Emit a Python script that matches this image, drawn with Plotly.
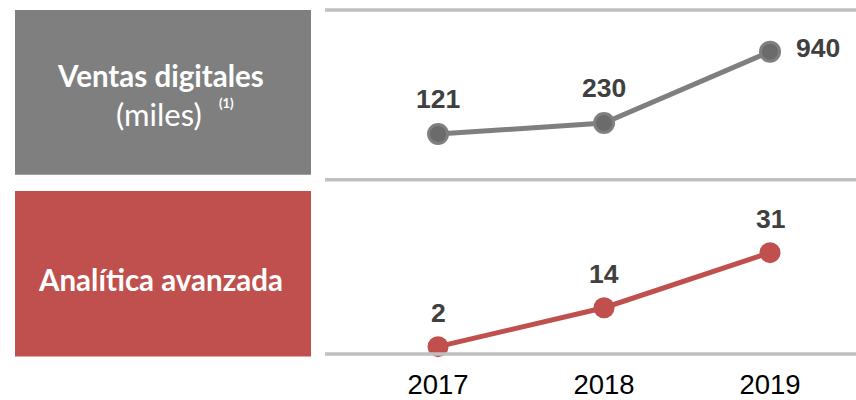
import plotly.graph_objects as go

years = ["2017", "2018", "2019"]
ventas = [121, 230, 940]
analitica = [2, 14, 31]

W, H = 856, 400
def fx(px):
    return px / W
def fy(py):
    return 1 - py / H

GRAY_LINE = "#7f7f7f"
GRAY_MARK = "#6b6b6b"
RED = "#c0504d"
RULE = "#bfbfbf"
LABEL = "#404040"
NUMFONT = "Liberation Sans, Arial, sans-serif"
BOXFONT = "Lato, Open Sans, sans-serif"

xs = list(range(len(years)))

fig = go.Figure()
fig.add_trace(go.Scatter(
    x=xs, y=ventas, mode="lines+markers", xaxis="x", yaxis="y",
    line=dict(color=GRAY_LINE, width=5),
    marker=dict(size=19, color=GRAY_MARK, line=dict(color=GRAY_LINE, width=3)),
    cliponaxis=False, hoverinfo="skip", showlegend=False))
fig.add_trace(go.Scatter(
    x=xs, y=analitica, mode="lines+markers", xaxis="x", yaxis="y2",
    line=dict(color=RED, width=5),
    marker=dict(size=21, color=RED),
    cliponaxis=False, hoverinfo="skip", showlegend=False))

annotations = []
for i, v in zip(xs, ventas):
    last = i == len(xs) - 1
    annotations.append(dict(
        x=i, y=v, xref="x", yref="y", text="<b>%d</b>" % v, showarrow=False,
        xanchor="center", yanchor="middle",
        xshift=48 if last else 0, yshift=4 if last else 35,
        font=dict(family=NUMFONT, size=26.5, color=LABEL)))
for i, v in zip(xs, analitica):
    annotations.append(dict(
        x=i, y=v, xref="x", yref="y2", text="<b>%d</b>" % v, showarrow=False,
        xanchor="center", yanchor="middle", yshift=34,
        font=dict(family=NUMFONT, size=26.5, color=LABEL)))

# box texts
annotations.append(dict(
    x=fx(160), y=fy(76), xref="paper", yref="paper", showarrow=False,
    text="<b>Ventas digitales</b>", xanchor="center", yanchor="middle",
    font=dict(family=BOXFONT, size=29.5, color="white")))
annotations.append(dict(
    x=fx(159), y=fy(115), xref="paper", yref="paper", showarrow=False,
    text="(miles)", xanchor="center", yanchor="middle",
    font=dict(family=BOXFONT, size=31, color="white")))
annotations.append(dict(
    x=fx(226), y=fy(104.5), xref="paper", yref="paper", showarrow=False,
    text="<b>(1)</b>", xanchor="center", yanchor="middle",
    font=dict(family=BOXFONT, size=13, color="white")))
annotations.append(dict(
    x=fx(160), y=fy(282), xref="paper", yref="paper", showarrow=False,
    text="<b>Analítica avanzada</b>", xanchor="center", yanchor="middle",
    font=dict(family=BOXFONT, size=29.5, color="white")))

shapes = [
    dict(type="rect", xref="paper", yref="paper", x0=fx(15), x1=fx(311),
         y0=fy(176.5), y1=fy(10), fillcolor="#7f7f7f", line=dict(width=0), layer="below"),
    dict(type="rect", xref="paper", yref="paper", x0=fx(15), x1=fx(311),
         y0=fy(360), y1=fy(193), fillcolor=RED, line=dict(width=0), layer="below"),
]
for py in (10, 181.5, 357.5):
    shapes.append(dict(type="line", xref="paper", yref="paper", x0=fx(325), x1=1,
                       y0=fy(py), y1=fy(py), line=dict(color=RULE, width=3.5), layer="above"))

fig.update_layout(
    width=W, height=H, margin=dict(l=0, r=0, t=0, b=0),
    paper_bgcolor="white", plot_bgcolor="rgba(0,0,0,0)",
    xaxis=dict(domain=[fx(325), 1], range=[-0.681, 2.518], anchor="y2",
               tickmode="array", tickvals=xs, ticktext=years,
               showgrid=False, zeroline=False, showline=False,
               ticks="", ticklabelstandoff=12,
               tickfont=dict(family=NUMFONT, size=27.5, color="black"),
               fixedrange=True),
    yaxis=dict(domain=[fy(181.5), fy(10)], range=[-333, 1355], visible=False,
               fixedrange=True),
    yaxis2=dict(domain=[fy(357.5), fy(181.5)], range=[-0.25, 53.5], visible=False,
                fixedrange=True),
    shapes=shapes, annotations=annotations,
)

fig.write_html(
    "out.html",
    config={"displayModeBar": False},
    post_script="document.body.style.margin='0';document.body.style.overflow='hidden';",
)
